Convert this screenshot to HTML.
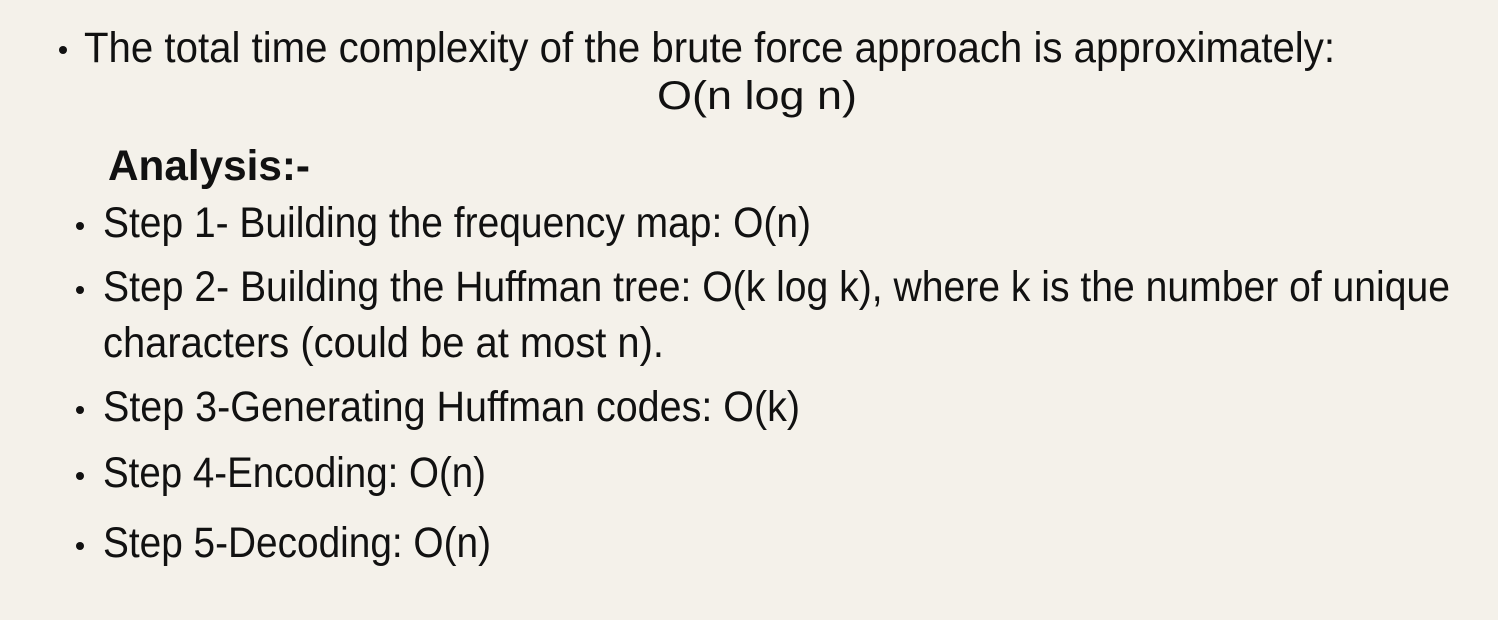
<!DOCTYPE html>
<html><head><meta charset="utf-8"><style>
html,body{margin:0;padding:0;background:#f4f1ea;}
svg{display:block}
text{font-family:"Liberation Sans",sans-serif;fill:#111;}
</style></head><body>
<svg width="1498" height="620" viewBox="0 0 1498 620" xmlns="http://www.w3.org/2000/svg">
<rect width="1498" height="620" fill="#f4f1ea"/>
<g fill="#111">
<circle cx="63" cy="50" r="4"/>
<circle cx="80" cy="226" r="4"/>
<circle cx="80" cy="290" r="4"/>
<circle cx="80" cy="410" r="4"/>
<circle cx="80" cy="476" r="4"/>
<circle cx="80" cy="546" r="4"/>
</g>
<text x="84" y="62" font-size="43" textLength="1251" lengthAdjust="spacingAndGlyphs">The total time complexity of the brute force approach is approximately:</text>
<text x="657" y="109" font-size="40" textLength="200" lengthAdjust="spacingAndGlyphs">O(n log n)</text>
<text x="108" y="180" font-size="43" font-weight="bold" textLength="202" lengthAdjust="spacingAndGlyphs">Analysis:-</text>
<text x="103" y="237" font-size="43" textLength="708" lengthAdjust="spacingAndGlyphs">Step 1- Building the frequency map: O(n)</text>
<text x="103" y="301" font-size="43" textLength="1347" lengthAdjust="spacingAndGlyphs">Step 2- Building the Huffman tree: O(k log k), where k is the number of unique</text>
<text x="103" y="357" font-size="43" textLength="561" lengthAdjust="spacingAndGlyphs">characters (could be at most n).</text>
<text x="103" y="421" font-size="43" textLength="697" lengthAdjust="spacingAndGlyphs">Step 3-Generating Huffman codes: O(k)</text>
<text x="103" y="487" font-size="43" textLength="383" lengthAdjust="spacingAndGlyphs">Step 4-Encoding: O(n)</text>
<text x="103" y="557" font-size="43" textLength="388" lengthAdjust="spacingAndGlyphs">Step 5-Decoding: O(n)</text>
</svg>
</body></html>
